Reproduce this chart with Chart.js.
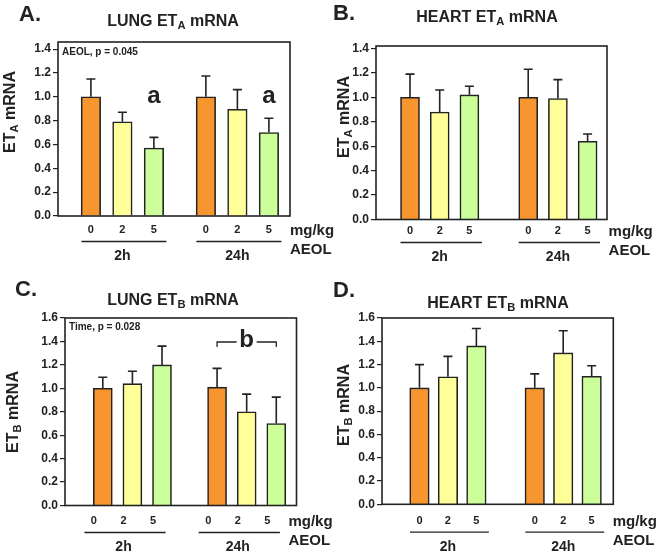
<!DOCTYPE html>
<html>
<head>
<meta charset="utf-8">
<script src="https://cdn.jsdelivr.net/npm/chart.js@4.4.0/dist/chart.umd.min.js"></script>
<style>
body { margin: 0; background: #fff; }
#wrap { position: relative; width: 670px; height: 555px; overflow: hidden;
        font-family: "Liberation Sans", Arial, sans-serif; color: #222; }
#wrap canvas { position: absolute; left: 0; top: 0; }
.t { position: absolute; font-weight: bold; white-space: nowrap; line-height: 1; }
.c { transform: translate(-50%, -50%); }
.l { transform: translate(0, -50%); }
.r { transform: translate(-50%, -50%) rotate(-90deg); }
.t sub { font-size: 0.7em; vertical-align: -0.3em; line-height: 0; }
</style>
</head>
<body>
<div id="wrap">
    <canvas id="cA" width="670" height="555"></canvas>
    <canvas id="cB" width="670" height="555"></canvas>
    <canvas id="cC" width="670" height="555"></canvas>
    <canvas id="cD" width="670" height="555"></canvas>

    <div class="t l" style="left:19px;top:14px;font-size:22px;">A.</div>
    <div class="t l" style="left:333px;top:13px;font-size:22px;">B.</div>
    <div class="t l" style="left:15px;top:289px;font-size:22px;">C.</div>
    <div class="t l" style="left:333px;top:290px;font-size:22px;">D.</div>

    <div class="t c" style="left:173px;top:21px;font-size:16px;">LUNG ET<sub>A</sub> mRNA</div>
    <div class="t c" style="left:487px;top:17px;font-size:16px;">HEART ET<sub>A</sub> mRNA</div>
    <div class="t c" style="left:173px;top:300px;font-size:16px;">LUNG ET<sub>B</sub> mRNA</div>
    <div class="t c" style="left:498px;top:303px;font-size:16px;">HEART ET<sub>B</sub> mRNA</div>

    <div class="t r" style="left:10px;top:112px;font-size:16px;">ET<sub>A</sub> mRNA</div>
    <div class="t r" style="left:344px;top:117px;font-size:16px;">ET<sub>A</sub> mRNA</div>
    <div class="t r" style="left:13px;top:412px;font-size:16px;">ET<sub>B</sub> mRNA</div>
    <div class="t r" style="left:344px;top:405px;font-size:16px;">ET<sub>B</sub> mRNA</div>

    <div class="t l" style="left:62px;top:52px;font-size:10px;">AEOL, p = 0.045</div>
    <div class="t l" style="left:69px;top:327px;font-size:10px;">Time, p = 0.028</div>
</div>

<script>
// doses (mg/kg AEOL) and time points
const doses = ["0", "2", "5"];
const times = ["2h", "24h"];

// A. lung ETA
const lungEtaMean  = [1.00, 0.79, 0.57, 1.00, 0.895, 0.70];
const lungEtaSem   = [0.15, 0.08, 0.09, 0.175, 0.165, 0.12];
const lungEtaMarks = ["", "", "a", "", "", "a"];

// B. heart ETA
const heartEtaMean = [1.00, 0.88, 1.02, 1.00, 0.99, 0.64];
const heartEtaSem  = [0.19, 0.18, 0.07, 0.23, 0.155, 0.06];

// C. lung ETB
const lungEtbMean    = [1.00, 1.04, 1.20, 1.01, 0.80, 0.70];
const lungEtbSem     = [0.095, 0.105, 0.16, 0.16, 0.15, 0.225];
const lungEtbBracket = [3, 5];
const lungEtbBracketLevel = 1.395;

// D. heart ETB
const heartEtbMean = [1.00, 1.095, 1.36, 1.00, 1.30, 1.10];
const heartEtbSem  = [0.20, 0.175, 0.15, 0.12, 0.19, 0.09];

const etaTicks = [0, 0.2, 0.4, 0.6, 0.8, 1.0, 1.2, 1.4];
const etbTicks = [0, 0.2, 0.4, 0.6, 0.8, 1.0, 1.2, 1.4, 1.6];

const ink = "#222";
const barColors = ["#F7962F", "#FFFF99", "#CCFF99"];
const yAxisW = 40;
const xAxisH = 20;

Chart.defaults.font.family = '"Liberation Sans", Arial, sans-serif';

const panels = [
    { id: "cA", mean: lungEtaMean, sem: lungEtaSem, ticks: etaTicks, marks: lungEtaMarks,
      box: { l: 58, r: 290, t: 42, b: 216 }, yMax: 1.46,
      xMin: -1.044, xMax: 6.32, gap: 3.65, shift: 0, barW: 19.5, labelDy: 14 },
    { id: "cB", mean: heartEtaMean, sem: heartEtaSem, ticks: etaTicks,
      box: { l: 376, r: 607, t: 46, b: 219.5 }, yMax: 1.42,
      xMin: -1.145, xMax: 6.633, gap: 3.98, shift: 0, barW: 19, labelDy: 11.5 },
    { id: "cC", mean: lungEtbMean, sem: lungEtbSem, ticks: etbTicks,
      bracket: lungEtbBracket, bracketLevel: lungEtbBracketLevel,
      box: { l: 65, r: 296.5, t: 318, b: 505.5 }, yMax: 1.6,
      xMin: -1.277, xMax: 6.543, gap: 3.86, shift: -0.3, barW: 19, labelDy: 15.5 },
    { id: "cD", mean: heartEtbMean, sem: heartEtbSem, ticks: etbTicks,
      box: { l: 382, r: 613.3, t: 318, b: 504.3 }, yMax: 1.6,
      xMin: -1.316, xMax: 6.81, gap: 4.05, shift: 0, barW: 19.5, labelDy: 16.4 }
];

function makeDecor(p, pos) {
    return {
        id: "decor",
        afterDraw(chart) {
            const ctx = chart.ctx;
            const a = chart.chartArea;
            const xs = chart.scales.x;
            const ys = chart.scales.y;
            const bars = chart.getDatasetMeta(0).data;

            ctx.save();
            ctx.strokeStyle = ink;
            ctx.fillStyle = ink;
            ctx.lineWidth = 1.6;

            // error bars, upper side only
            bars.forEach((bar, i) => {
                const yTop = ys.getPixelForValue(p.mean[i] + p.sem[i]);
                ctx.beginPath();
                ctx.moveTo(bar.x, bar.y);
                ctx.lineTo(bar.x, yTop);
                ctx.moveTo(bar.x - 4.5, yTop);
                ctx.lineTo(bar.x + 4.5, yTop);
                ctx.stroke();
            });

            // frame
            ctx.strokeRect(a.left, a.top, a.right - a.left, a.bottom - a.top);

            // time groups under the dose ticks
            const tickY = a.bottom + p.labelDy;
            const lineY = tickY + 11.5;
            ctx.lineWidth = 1.3;
            ctx.textAlign = "center";
            ctx.textBaseline = "middle";
            ctx.font = 'bold 14px "Liberation Sans", Arial, sans-serif';
            let lastX = 0;
            times.forEach((t, g) => {
                const x0 = xs.getPixelForValue(pos[g * 3] + p.shift);
                const x1 = xs.getPixelForValue(pos[g * 3 + 1] + p.shift);
                const x2 = xs.getPixelForValue(pos[g * 3 + 2] + p.shift);
                ctx.beginPath();
                ctx.moveTo(x0 - 9.5, lineY);
                ctx.lineTo(x2 + 12.5, lineY);
                ctx.stroke();
                ctx.fillText(t, x1, lineY + 15);
                lastX = x2;
            });
            ctx.textAlign = "left";
            ctx.font = 'bold 15px "Liberation Sans", Arial, sans-serif';
            ctx.fillText("mg/kg", lastX + 21, tickY + 1);
            ctx.fillText("AEOL", lastX + 21, tickY + 20);

            // significance letters
            if (p.marks) {
                ctx.textAlign = "center";
                ctx.textBaseline = "alphabetic";
                ctx.font = 'bold 24px "Liberation Sans", Arial, sans-serif';
                p.marks.forEach((m, i) => {
                    if (m) ctx.fillText(m, bars[i].x, ys.getPixelForValue(0.945));
                });
            }
            if (p.bracket) {
                const xa = bars[p.bracket[0]].x;
                const xb = bars[p.bracket[1]].x;
                const xm = (xa + xb) / 2;
                const y = ys.getPixelForValue(p.bracketLevel);
                ctx.lineWidth = 1.3;
                ctx.beginPath();
                ctx.moveTo(xa, y + 5);
                ctx.lineTo(xa, y);
                ctx.lineTo(xm - 10, y);
                ctx.moveTo(xm + 10, y);
                ctx.lineTo(xb, y);
                ctx.lineTo(xb, y + 5);
                ctx.stroke();
                ctx.textAlign = "center";
                ctx.textBaseline = "middle";
                ctx.font = 'bold 24px "Liberation Sans", Arial, sans-serif';
                ctx.fillText("b", xm, y - 2);
            }
            ctx.restore();
        }
    };
}

panels.forEach(p => {
    const pos = p.mean.map((m, i) => Math.floor(i / 3) * p.gap + (i % 3));

    new Chart(document.getElementById(p.id), {
        type: "bar",
        data: {
            datasets: [{
                data: p.mean.map((m, i) => ({ x: pos[i], y: m })),
                backgroundColor: p.mean.map((m, i) => barColors[i % 3]),
                borderColor: ink,
                borderWidth: 1.6,
                barThickness: p.barW
            }]
        },
        options: {
            responsive: false,
            animation: false,
            events: [],
            layout: {
                padding: {
                    left: p.box.l - yAxisW,
                    right: 670 - p.box.r,
                    top: p.box.t,
                    bottom: 555 - p.box.b - xAxisH
                }
            },
            plugins: { legend: { display: false }, tooltip: { enabled: false } },
            scales: {
                x: {
                    type: "linear",
                    min: p.xMin,
                    max: p.xMax,
                    offset: false,
                    afterBuildTicks: s => { s.ticks = pos.map(v => ({ value: v + p.shift })); },
                    afterFit: s => { s.height = xAxisH; },
                    grid: { display: false, drawTicks: false, offset: false },
                    border: { display: false },
                    ticks: {
                        autoSkip: false,
                        maxRotation: 0,
                        padding: p.labelDy - 6.5,
                        color: ink,
                        font: { size: 11, weight: "bold" },
                        callback: (v, i) => doses[i % 3]
                    }
                },
                y: {
                    min: 0,
                    max: p.yMax,
                    afterBuildTicks: s => { s.ticks = p.ticks.map(v => ({ value: v })); },
                    afterFit: s => { s.width = yAxisW; },
                    grid: { drawOnChartArea: false, drawTicks: true, tickLength: 5, color: ink, lineWidth: 1.2 },
                    border: { display: false },
                    ticks: {
                        padding: 2,
                        color: ink,
                        font: { size: 12, weight: "bold" },
                        callback: v => v.toFixed(1)
                    }
                }
            }
        },
        plugins: [makeDecor(p, pos)]
    });
});
</script>
</body>
</html>
